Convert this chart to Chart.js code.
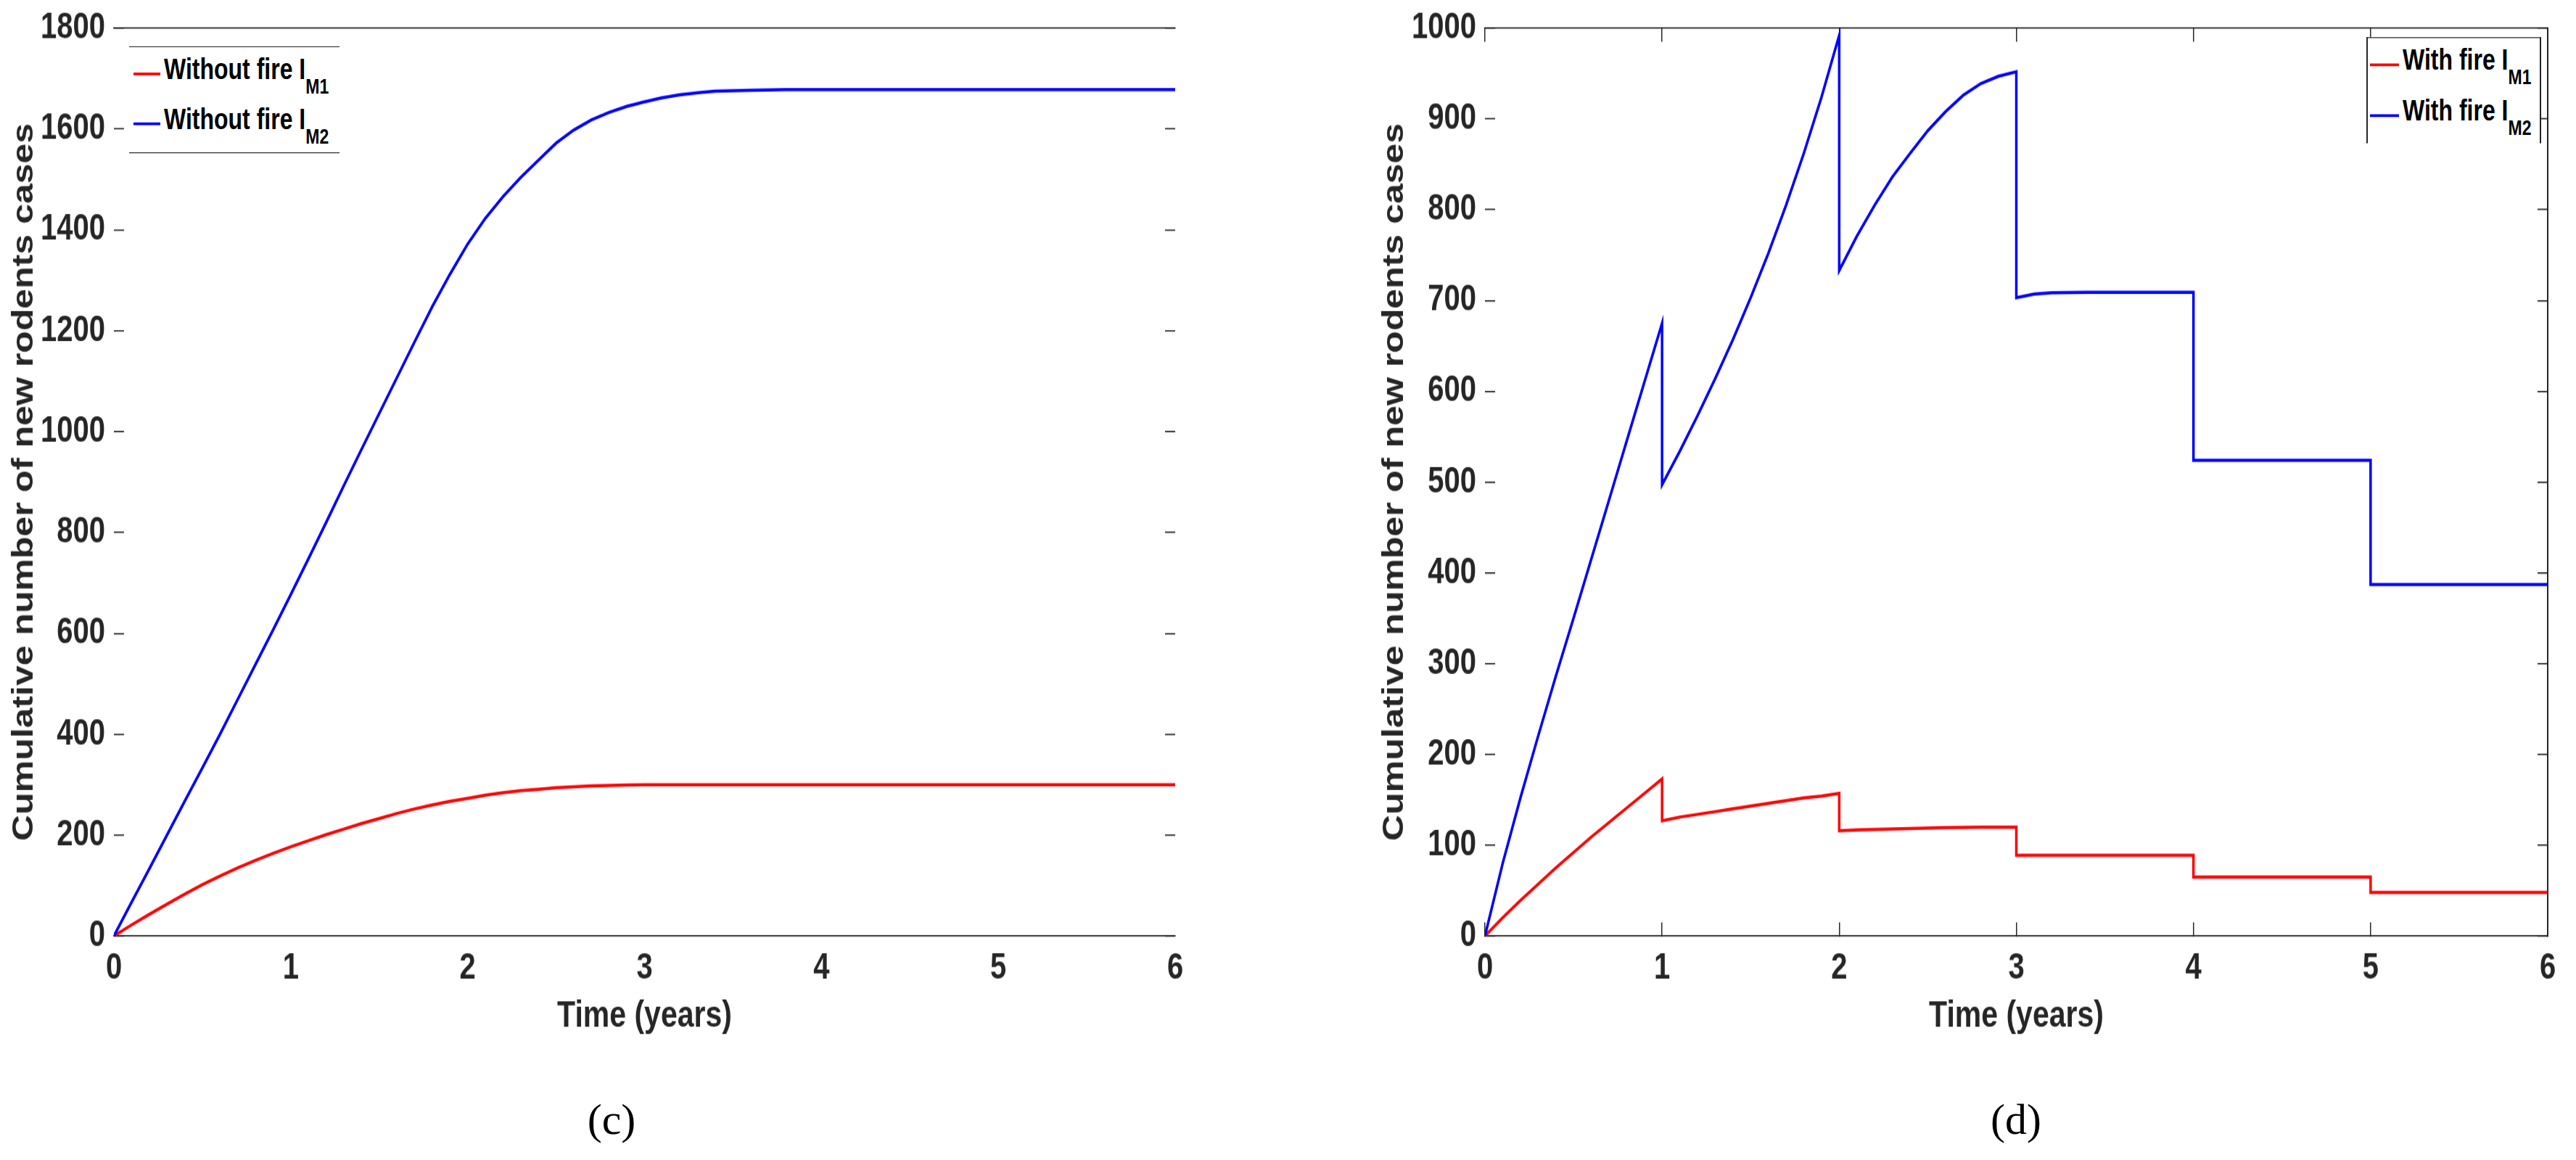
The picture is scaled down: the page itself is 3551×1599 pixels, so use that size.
<!DOCTYPE html>
<html>
<head>
<meta charset="utf-8">
<title>Cumulative number of new rodents cases</title>
<script src="https://cdn.jsdelivr.net/npm/chart.js@4.4.1/dist/chart.umd.min.js"></script>
<style>
html, body { margin: 0; padding: 0; background: #fff; }
body { position: relative; width: 3551px; height: 1599px; overflow: hidden; }
/* the exported figure is stretched vertically, so the whole plot area is drawn short and scaled up */
#stage { position: absolute; left: 0; top: 0; width: 3551px; height: 1279px; transform-origin: 0 0; }
canvas { position: absolute; top: 0; }
.box { position: absolute; box-sizing: border-box; background: #fff; border: 0 solid #262626; }
.swatch { position: absolute; height: 3px; }
.entry { position: absolute; white-space: nowrap; color: #000; }
.caption { position: absolute; transform: translate(-50%, -50%); font-family: 'Liberation Serif', 'Times New Roman', serif; font-size: 60px; color: #000; }
</style>
</head>
<body>
<div id="stage">
  <canvas id="chartC" width="1775" height="1279" style="left:0;width:1775px;height:1279px"></canvas>
  <canvas id="chartD" width="1776" height="1279" style="left:1775px;width:1776px;height:1279px"></canvas>
</div>
<div class="caption" style="left:843px;top:1543px">(c)</div>
<div class="caption" style="left:2779px;top:1543px">(d)</div>
<script>
/*--data (c): without fire--*/
var noFireT = [0, 0.1, 0.2, 0.3, 0.4, 0.5, 0.6, 0.7, 0.8, 0.9, 1.0, 1.1, 1.2, 1.3, 1.4, 1.5, 1.6, 1.7, 1.8, 1.9,
               2.0, 2.1, 2.2, 2.3, 2.4, 2.5, 2.6, 2.7, 2.8, 2.9, 3.0, 3.1, 3.2, 3.3, 3.4, 3.6, 3.8, 4.0, 5.0, 6.0];
var noFireM1 = [0, 22, 43, 63, 83, 102, 119, 135, 150, 164, 177, 189, 201, 212, 223, 233, 243, 252, 260, 267,
                273, 279, 284, 288, 291, 294, 296, 297.5, 298.5, 299.3, 299.8, 300, 300, 300, 300, 300, 300, 300, 300, 300];
var noFireM2 = [0, 67, 133, 200, 267, 333, 400, 469, 538, 607, 677, 748, 820, 893, 965, 1036, 1107, 1178, 1248, 1312,
                1372, 1423, 1466, 1504, 1538, 1572, 1598, 1618, 1633, 1645, 1654, 1662, 1668, 1672, 1675, 1677, 1678, 1678, 1678, 1678];

/*--data (d): with fire (repeated times are the jumps)--*/
var fireT = [0, 0.1, 0.2, 0.3, 0.4, 0.5, 0.6, 0.7, 0.8, 0.9, 1,
             1, 1.1, 1.2, 1.3, 1.4, 1.5, 1.6, 1.7, 1.8, 1.9, 2,
             2, 2.1, 2.2, 2.3, 2.4, 2.5, 2.6, 2.7, 2.8, 2.9, 3,
             3, 3.1, 3.2, 3.4, 3.7, 4,
             4, 5,
             5, 6];
var fireM1 = [0, 20, 39, 57, 75, 92, 109, 125, 141, 157, 173,
              127, 131, 134, 137, 140, 143, 146, 149, 152, 154, 157,
              116, 117, 117.5, 118, 118.5, 119, 119.3, 119.6, 119.8, 120, 120,
              89, 89, 89, 89, 89, 89,
              65, 65,
              48, 48];
var fireM2 = [0, 80, 152, 220, 286, 350, 415, 480, 545, 610, 675,
              497, 534, 573, 614, 657, 703, 752, 805, 862, 924, 992,
              733, 771, 805, 836, 862, 887, 908, 926, 939, 947, 952,
              703, 707, 708.5, 709, 709, 709,
              524, 524,
              387, 387];

var yearTicks = [0, 1, 2, 3, 4, 5, 6];
var yTicksC = [0, 200, 400, 600, 800, 1000, 1200, 1400, 1600, 1800];
var yTicksD = [0, 100, 200, 300, 400, 500, 600, 700, 800, 900, 1000];
var labelsC = ['Without fire I', 'Without fire I'];
var labelsD = ['With fire I', 'With fire I'];
var subs = ['M1', 'M2'];

var H = 1279;               // drawn height, stretched to the 1599 page
var S = 1599 / H;
document.getElementById('stage').style.transform = 'scaleY(' + S + ')';

var family = "'Liberation Sans', Arial, Helvetica, sans-serif";
var tickSize = 40;
var xTitleSize = 41;
var yTitleSize = 40;
var legendSize = 32;
var axisColor = '#262626';

function ticksFrom(list) {
  return function (scale) { scale.ticks = list.map(function (v) { return { value: v }; }); };
}
// fixed box sizes; no extra room for half tick labels
function fixSize(w, h) {
  return function (s) {
    if (w !== null) s.width = w;
    if (h !== null) s.height = h;
    s.paddingTop = 0; s.paddingBottom = 0; s.paddingLeft = 0; s.paddingRight = 0;
  };
}

function makeChart(id, p) {
  var tl = p.xTicks ? -15 : 0;
  var gridX = { drawOnChartArea: false, drawTicks: p.xTicks, tickLength: -15, color: axisColor, lineWidth: 1.5 };
  var gridY = { drawOnChartArea: false, drawTicks: true, tickLength: -14, color: axisColor, lineWidth: 1.5 };
  var border = { display: true, color: axisColor, width: 1.6 };
  return new Chart(document.getElementById(id), {
    type: 'line',
    data: {
      datasets: [
        { label: p.labels[0] + subs[0], data: p.t.map(function (t, i) { return { x: t, y: p.m1[i] }; }),
          borderColor: '#ff0000', borderWidth: 3.5, pointRadius: 0, tension: 0, fill: false, order: 1 },
        { label: p.labels[1] + subs[1], data: p.t.map(function (t, i) { return { x: t, y: p.m2[i] }; }),
          borderColor: '#0000ff', borderWidth: 3.5, pointRadius: 0, tension: 0, fill: false, order: 0 }
      ]
    },
    options: {
      responsive: false,
      animation: false,
      events: [],
      layout: { padding: 0 },
      plugins: { legend: { display: false }, tooltip: { enabled: false } },
      scales: {
        x: {
          type: 'linear', position: 'bottom', min: 0, max: 6,
          afterFit: fixSize(null, H - p.bottom),
          afterBuildTicks: ticksFrom(yearTicks),
          ticks: { color: axisColor, font: { family: family, size: tickSize, weight: 'bold', lineHeight: 1.2 },
                   padding: 1335 / S - p.bottom - tickSize * 0.6 - tl, maxRotation: 0 },
          grid: gridX,
          border: border,
          title: { display: true, text: 'Time (years)', color: axisColor,
                   font: { family: family, size: xTitleSize, weight: 'bold', lineHeight: 1.2 },
                   padding: { top: 0, bottom: H - 1401 / S - xTitleSize * 0.6 } }
        },
        xTop: {
          type: 'linear', position: 'top', min: 0, max: 6,
          afterFit: fixSize(null, p.top),
          afterBuildTicks: ticksFrom(yearTicks),
          ticks: { display: false },
          grid: gridX,
          border: border
        },
        y: {
          type: 'linear', position: 'left', min: 0, max: p.max,
          afterFit: fixSize(p.left, null),
          afterBuildTicks: ticksFrom(p.yTicks),
          ticks: { color: axisColor, font: { family: family, size: tickSize, weight: 'bold', lineHeight: 1.2 },
                   padding: 26, callback: function (v) { return String(v); } },
          grid: gridY,
          border: { display: false },
          title: { display: true, text: 'Cumulative number of new rodents cases', color: axisColor,
                   font: { family: family, size: yTitleSize, weight: 'bold', lineHeight: 1.2 },
                   padding: { top: p.yTitleX - yTitleSize * 0.6, bottom: 0 } }
        },
        yRight: {
          type: 'linear', position: 'right', min: 0, max: p.max,
          afterFit: fixSize(p.width - p.right, null),
          afterBuildTicks: ticksFrom(p.yTicks),
          ticks: { display: false },
          grid: gridY,
          border: { display: p.rightBorder, color: axisColor, width: 2 }
        }
      }
    }
  });
}

/*--chart (c)--*/
var chartC = makeChart('chartC', {
  t: noFireT, m1: noFireM1, m2: noFireM2, labels: labelsC, yTicks: yTicksC, max: 1800,
  width: 1775, left: 157, right: 1620, top: 31, bottom: 1032, yTitleX: 34, xTicks: false, rightBorder: false
});

/*--chart (d)--*/
var chartD = makeChart('chartD', {
  t: fireT, m1: fireM1, m2: fireM2, labels: labelsD, yTicks: yTicksD, max: 1000,
  width: 1776, left: 272, right: 1737, top: 31, bottom: 1032, yTitleX: 148, xTicks: true, rightBorder: true
});

/*--legends, MATLAB style with subscripts (page y values divided by S)--*/
var stage = document.getElementById('stage');
function addLegend(boxCss, x, len, ys, labels) {
  var box = document.createElement('div');
  box.className = 'box';
  box.style.cssText = boxCss;
  stage.appendChild(box);
  var colors = ['#ff0000', '#0000ff'];
  ys.forEach(function (yPage, i) {
    var y = yPage / S;
    var sw = document.createElement('div');
    sw.className = 'swatch';
    sw.style.cssText = 'left:' + x + 'px;top:' + (y - 1.5) + 'px;width:' + len + 'px;background:' + colors[i];
    stage.appendChild(sw);
    var tx = document.createElement('div');
    tx.className = 'entry';
    tx.style.cssText = 'left:' + (x + len + 5) + 'px;top:' + (y + 7 / S - 0.8465 * legendSize) + 'px;' +
      'font:bold ' + legendSize + 'px/' + legendSize + 'px ' + family;
    tx.textContent = labels[i];
    var sb = document.createElement('span');
    sb.style.cssText = 'font-size:' + Math.round(legendSize * 0.72) + 'px;vertical-align:-' + Math.round(20 / S) + 'px';
    sb.textContent = subs[i];
    tx.appendChild(sb);
    stage.appendChild(tx);
  });
}
addLegend('left:178px;top:' + (64 / S) + 'px;width:290px;height:' + (147 / S) + 'px;border-top-width:1.6px;border-bottom-width:1.6px;',
          184, 37, [102, 171], labelsC);
addLegend('left:3262px;top:' + (51 / S) + 'px;width:241px;height:' + (146 / S) + 'px;border-top-width:1.6px;border-left-width:2px;border-right-width:2px;',
          3267, 40, [90, 160], labelsD);
</script>
</body>
</html>
